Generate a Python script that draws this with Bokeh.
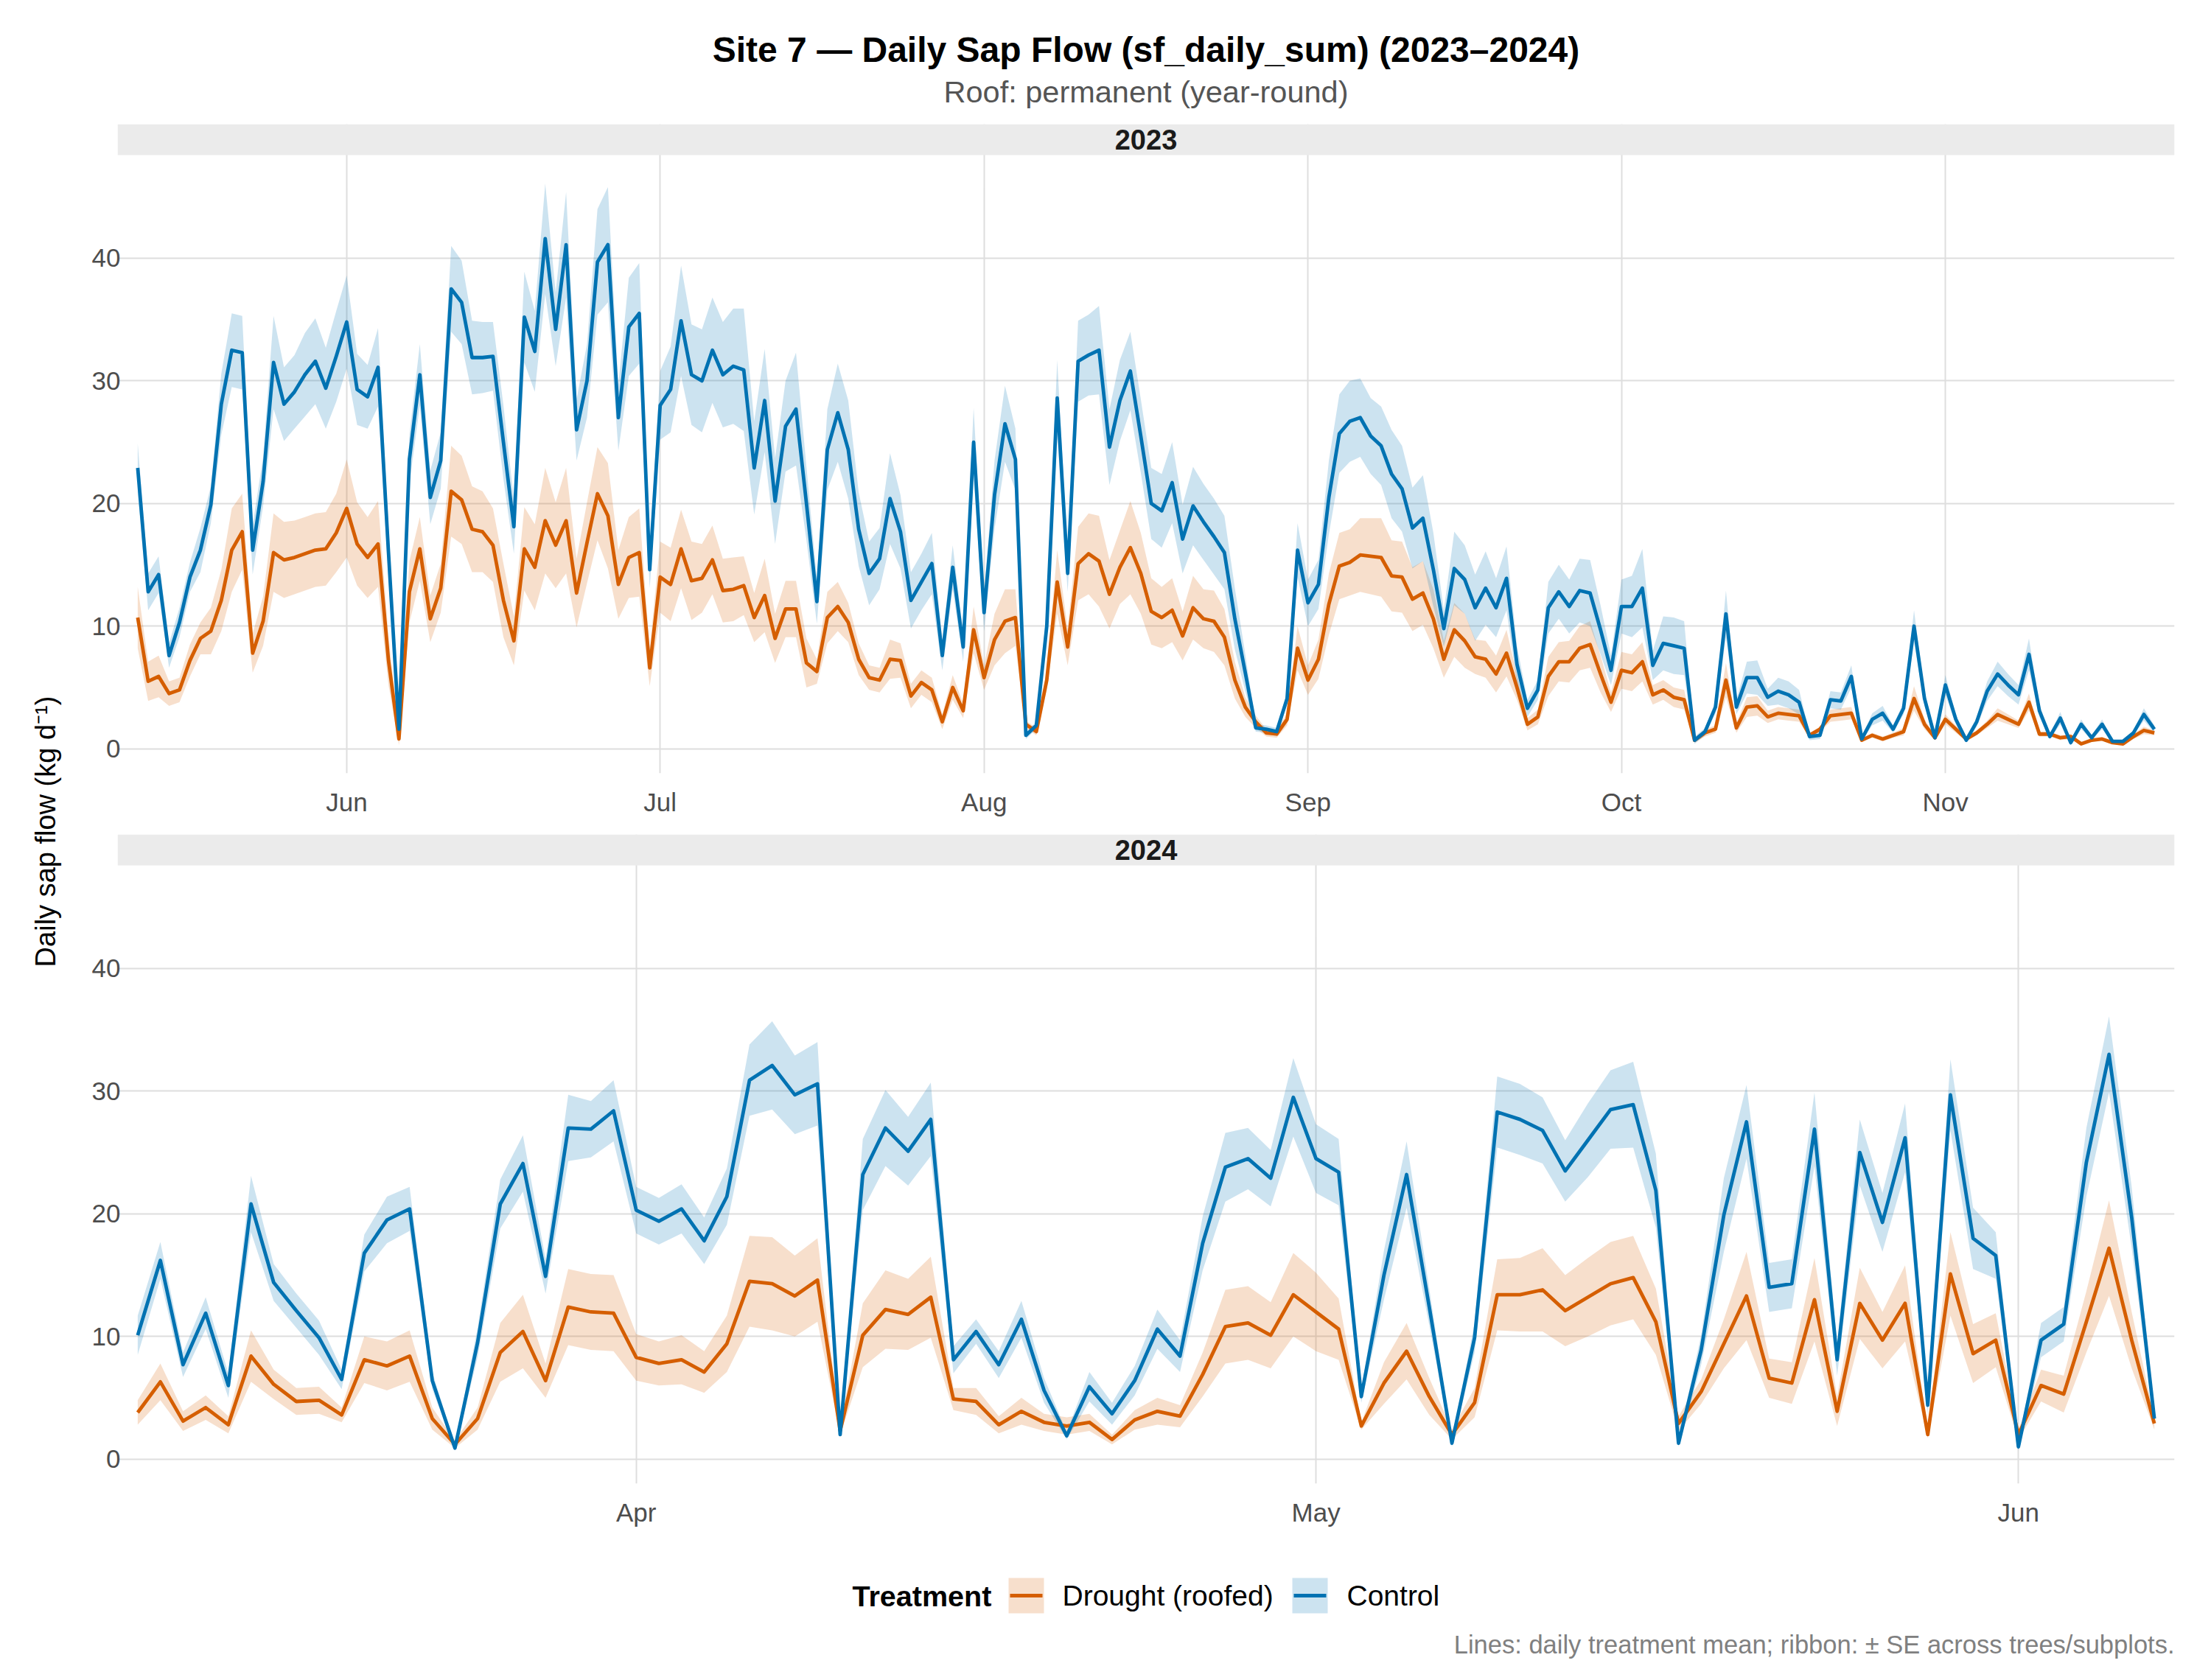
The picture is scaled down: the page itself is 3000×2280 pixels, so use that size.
import pandas as pd
from bokeh.plotting import figure
from bokeh.layouts import column, row
from bokeh.models import Range1d, FixedTicker, DatetimeTickFormatter, ColumnDataSource
from bokeh.core.properties import value
from bokeh.embed import file_html
from bokeh.resources import INLINE

# ---------------- data ----------------
start_2023 = "2023-05-12"
start_2024 = "2024-03-10"

ctl_2023 = [22.9, 12.8, 14.2, 7.6, 10.3, 14.0, 16.2, 19.9, 28.1, 32.5,
            32.3, 16.2, 21.8, 31.5, 28.1, 29.1, 30.5, 31.6, 29.4, 32.0,
            34.8, 29.3, 28.7, 31.1, 16.0, 1.6, 23.6, 30.5, 20.5, 23.5,
            37.5, 36.4, 31.9, 31.9, 32.0, 25.0, 18.1, 35.2, 32.4, 41.6,
            34.2, 41.1, 26.0, 30.0, 39.7, 41.1, 27.0, 34.4, 35.5, 14.6,
            28.0, 29.3, 34.9, 30.5, 30.0, 32.5, 30.5, 31.2, 30.9, 22.9,
            28.4, 20.2, 26.3, 27.7, 20.0, 12.0, 24.4, 27.4, 24.4, 17.9,
            14.3, 15.5, 20.4, 17.7, 12.1, 13.6, 15.1, 7.6, 14.8, 8.3,
            25.0, 11.1, 20.7, 26.5, 23.6, 1.1, 1.9, 10.0, 28.6, 14.3,
            31.6, 32.1, 32.5, 24.6, 28.4, 30.8, 25.5, 20.0, 19.4, 21.7,
            17.1, 19.8, 18.5, 17.3, 16.0, 10.6, 6.2, 1.7, 1.6, 1.4,
            4.1, 16.2, 11.9, 13.4, 20.5, 25.7, 26.7, 27.0, 25.5, 24.7,
            22.4, 21.2, 18.0, 18.8, 14.6, 9.8, 14.7, 13.8, 11.5, 13.1,
            11.5, 13.9, 6.9, 3.3, 4.8, 11.5, 12.8, 11.6, 12.9, 12.7,
            9.7, 6.4, 11.6, 11.6, 13.1, 6.8, 8.6, 8.4, 8.2, 0.7,
            1.4, 3.4, 11.0, 3.4, 5.8, 5.8, 4.2, 4.7, 4.4, 3.8,
            1.0, 1.1, 4.0, 3.9, 5.9, 0.8, 2.4, 2.9, 1.6, 3.3,
            10.0, 4.1, 0.9, 5.2, 2.4, 0.7, 2.2, 4.7, 6.1, 5.2,
            4.4, 7.7, 3.1, 1.0, 2.5, 0.5, 2.0, 0.9, 2.0, 0.6,
            0.6, 1.3, 2.8, 1.6]

dr_2023 = [10.7, 5.5, 5.9, 4.5, 4.8, 7.2, 9.0, 9.6, 12.1, 16.2,
           17.7, 7.8, 10.4, 16.0, 15.4, 15.6, 15.9, 16.2, 16.3, 17.6,
           19.6, 16.7, 15.6, 16.7, 7.2, 0.8, 12.8, 16.3, 10.6, 13.1,
           21.0, 20.3, 17.9, 17.7, 16.6, 12.1, 8.8, 16.3, 14.8, 18.6,
           16.6, 18.6, 12.7, 16.8, 20.8, 19.0, 13.4, 15.6, 16.0, 6.6,
           14.0, 13.4, 16.3, 13.7, 13.9, 15.4, 12.9, 13.0, 13.3, 10.7,
           12.5, 9.0, 11.4, 11.4, 7.0, 6.3, 10.7, 11.6, 10.3, 7.3,
           5.8, 5.6, 7.3, 7.2, 4.3, 5.4, 4.8, 2.2, 5.0, 3.1,
           9.7, 5.8, 8.9, 10.4, 10.7, 2.0, 1.4, 5.6, 13.6, 8.3,
           15.1, 15.9, 15.3, 12.6, 14.8, 16.4, 14.3, 11.2, 10.7, 11.3,
           9.2, 11.5, 10.6, 10.4, 9.1, 5.6, 3.4, 2.2, 1.3, 1.2,
           2.4, 8.2, 5.6, 7.3, 11.8, 14.9, 15.2, 15.8, 15.7, 15.6,
           14.1, 14.0, 12.2, 12.7, 10.6, 7.3, 9.7, 8.8, 7.5, 7.3,
           6.1, 7.8, 5.0, 2.0, 2.6, 5.9, 7.1, 7.1, 8.2, 8.5,
           6.1, 3.8, 6.4, 6.2, 7.1, 4.4, 4.8, 4.2, 4.0, 0.7,
           1.3, 1.6, 5.6, 1.7, 3.4, 3.5, 2.6, 2.9, 2.8, 2.7,
           1.1, 1.6, 2.7, 2.8, 2.9, 0.7, 1.1, 0.8, 1.1, 1.4,
           4.1, 2.0, 0.9, 2.4, 1.6, 0.8, 1.3, 2.0, 2.8, 2.4,
           2.0, 3.8, 1.2, 1.2, 0.9, 1.0, 0.4, 0.7, 0.8, 0.5,
           0.4, 1.0, 1.5, 1.3]

se_ctl_2023 = [2.0, 1.5, 1.5, 1.0, 1.2, 1.2, 1.8, 1.5, 2.5, 3.0,
               3.0, 2.0, 2.0, 3.8, 3.0, 3.0, 3.4, 3.5, 3.3, 3.7,
               3.8, 2.9, 2.6, 3.2, 2.0, 0.5, 2.0, 2.5, 2.2, 2.3,
               3.5, 3.4, 3.0, 2.9, 2.8, 3.0, 2.2, 3.7, 3.3, 4.5,
               3.0, 4.3, 2.5, 3.0, 4.3, 4.7, 2.7, 4.0, 4.1, 1.5,
               2.8, 3.5, 4.5, 4.1, 4.2, 4.3, 4.3, 4.7, 5.0, 3.8,
               4.2, 3.5, 3.7, 4.6, 3.0, 1.8, 3.3, 4.0, 4.0, 3.0,
               2.6, 2.5, 3.7, 3.0, 2.3, 2.3, 2.5, 1.2, 1.8, 1.2,
               2.8, 1.5, 2.8, 3.1, 2.5, 0.3, 0.3, 1.5, 3.1, 1.5,
               3.3, 3.3, 3.6, 3.1, 3.3, 3.2, 3.0, 2.9, 3.0, 3.3,
               2.8, 3.2, 3.1, 3.1, 3.0, 2.5, 1.5, 0.3, 0.3, 0.3,
               0.5, 2.2, 1.9, 2.0, 3.0, 3.2, 3.3, 3.2, 3.1, 3.2,
               3.6, 3.5, 3.3, 3.5, 3.0, 1.5, 3.0, 2.8, 2.7, 3.0,
               2.4, 2.6, 1.5, 0.7, 0.8, 2.1, 2.2, 2.2, 2.6, 2.7,
               2.0, 1.2, 2.2, 2.5, 3.2, 1.2, 2.2, 2.3, 2.2, 0.3,
               0.3, 0.5, 1.9, 0.6, 1.3, 1.4, 0.7, 1.1, 1.1, 1.0,
               0.3, 0.3, 0.7, 0.7, 0.9, 0.2, 0.5, 0.6, 0.3, 0.5,
               1.3, 0.6, 0.2, 0.8, 0.4, 0.2, 0.4, 0.8, 1.0, 0.9,
               0.8, 1.3, 0.5, 0.2, 0.5, 0.2, 0.4, 0.2, 0.4, 0.1,
               0.1, 0.2, 0.5, 0.3]

se_dr_2023 = [2.5, 1.6, 1.7, 1.0, 1.0, 1.3, 1.3, 1.9, 2.5, 3.4,
              3.1, 1.6, 2.0, 3.2, 3.1, 3.0, 3.0, 3.0, 3.0, 3.2,
              4.0, 3.4, 3.3, 3.5, 2.0, 0.5, 2.5, 2.6, 1.9, 2.0,
              3.7, 3.6, 3.5, 3.3, 3.0, 3.0, 2.0, 3.4, 3.5, 4.3,
              3.5, 4.3, 2.8, 3.3, 3.8, 4.3, 2.8, 3.3, 3.6, 1.5,
              2.9, 3.0, 3.2, 3.2, 2.8, 2.8, 2.6, 2.6, 2.4, 2.0,
              3.0, 2.0, 2.3, 2.3, 2.0, 1.0, 2.1, 2.0, 1.6, 1.3,
              1.0, 1.0, 1.6, 1.4, 1.0, 1.0, 1.0, 0.6, 1.0, 0.6,
              1.9, 1.0, 2.1, 2.6, 2.3, 0.3, 0.3, 0.8, 2.6, 1.5,
              3.0, 3.3, 3.7, 2.8, 3.0, 3.8, 3.3, 2.7, 2.5, 2.6,
              2.0, 2.6, 2.4, 2.5, 2.3, 1.5, 0.8, 0.5, 0.3, 0.3,
              0.5, 1.8, 1.2, 1.6, 2.5, 2.7, 2.7, 3.0, 3.1, 3.2,
              2.9, 2.9, 2.6, 2.6, 2.4, 1.5, 2.2, 2.2, 1.4, 1.5,
              1.5, 1.9, 1.0, 0.5, 0.6, 1.6, 1.6, 1.7, 1.8, 1.9,
              1.5, 0.8, 1.5, 1.5, 1.6, 0.8, 0.8, 0.8, 0.8, 0.2,
              0.3, 0.3, 1.4, 0.4, 0.8, 0.8, 0.5, 0.5, 0.5, 0.5,
              0.2, 0.2, 0.5, 0.5, 0.5, 0.1, 0.2, 0.2, 0.2, 0.3,
              1.0, 0.4, 0.2, 0.4, 0.3, 0.2, 0.2, 0.3, 0.5, 0.4,
              0.3, 0.7, 0.2, 0.2, 0.2, 0.2, 0.1, 0.1, 0.1, 0.1,
              0.1, 0.2, 0.3, 0.2]

ctl_2024 = [10.1, 16.2, 7.7, 11.9, 6.0, 20.8, 14.4, 12.1, 9.9, 6.5,
            16.8, 19.5, 20.4, 6.4, 0.9, 9.5, 20.8, 24.1, 14.9, 27.0,
            26.9, 28.4, 20.3, 19.4, 20.4, 17.8, 21.4, 30.9, 32.1, 29.7,
            30.6, 2.0, 23.2, 27.0, 25.1, 27.7, 8.1, 10.4, 7.7, 11.4,
            5.6, 1.9, 5.9, 3.7, 6.4, 10.6, 8.4, 17.6, 23.8, 24.5,
            22.9, 29.5, 24.5, 23.4, 5.1, 15.0, 23.2, 12.4, 1.3, 9.9,
            28.3, 27.7, 26.8, 23.5, 26.0, 28.5, 28.9, 21.9, 1.3, 8.9,
            19.9, 27.5, 14.0, 14.3, 26.9, 8.1, 25.0, 19.3, 26.2, 4.4,
            29.7, 18.0, 16.6, 1.0, 9.7, 11.0, 24.2, 33.0, 19.7, 3.3]

dr_2024 = [3.8, 6.3, 3.1, 4.2, 2.8, 8.4, 6.1, 4.7, 4.8, 3.6,
           8.1, 7.6, 8.4, 3.3, 1.2, 3.3, 8.7, 10.4, 6.4, 12.4,
           12.0, 11.9, 8.3, 7.8, 8.1, 7.1, 9.4, 14.5, 14.3, 13.3,
           14.6, 2.3, 10.1, 12.2, 11.8, 13.2, 4.9, 4.7, 2.8, 3.9,
           3.0, 2.7, 3.0, 1.6, 3.2, 3.9, 3.5, 6.9, 10.8, 11.1,
           10.1, 13.4, 12.0, 10.6, 2.7, 6.2, 8.8, 5.1, 2.0, 4.6,
           13.4, 13.4, 13.8, 12.1, 13.2, 14.3, 14.8, 11.2, 2.9, 5.5,
           9.4, 13.3, 6.6, 6.2, 13.0, 3.9, 12.7, 9.7, 12.7, 2.0,
           15.1, 8.6, 9.7, 2.0, 6.0, 5.3, 11.2, 17.2, 9.7, 2.9]

se_ctl_2024 = [1.6, 1.5, 1.0, 1.3, 1.0, 2.3, 1.5, 1.4, 1.4, 0.8,
               1.5, 1.9, 1.8, 0.7, 0.2, 1.2, 2.0, 2.3, 1.4, 2.7,
               2.3, 2.5, 1.9, 1.9, 2.0, 1.9, 2.3, 2.9, 3.6, 3.2,
               3.4, 0.3, 2.9, 3.1, 2.8, 3.0, 1.1, 1.0, 1.1, 1.5,
               1.0, 0.3, 1.2, 0.9, 1.2, 1.6, 1.3, 2.2, 2.8, 2.5,
               2.3, 3.2, 2.8, 2.7, 0.5, 2.0, 2.7, 1.5, 0.3, 1.2,
               2.9, 2.9, 2.7, 2.5, 3.0, 3.2, 3.5, 3.0, 0.3, 1.2,
               3.0, 3.0, 2.0, 2.0, 3.0, 1.3, 2.7, 2.4, 2.8, 0.7,
               2.9, 2.5, 1.9, 0.3, 1.4, 1.4, 2.8, 3.1, 2.5, 0.5]

se_dr_2024 = [1.0, 1.5, 0.8, 1.0, 0.7, 2.1, 1.2, 1.1, 1.1, 0.6,
              1.9, 2.0, 2.1, 0.9, 0.3, 0.9, 2.4, 3.0, 1.4, 3.1,
              3.1, 3.1, 1.9, 1.8, 2.0, 1.7, 2.3, 3.7, 3.8, 3.3,
              3.4, 0.3, 2.6, 3.2, 2.9, 3.3, 0.9, 1.1, 0.7, 1.1,
              0.7, 0.7, 0.7, 0.4, 0.8, 1.1, 0.9, 1.8, 3.0, 3.0,
              2.7, 3.4, 3.2, 2.5, 0.3, 1.7, 2.3, 1.5, 0.4, 1.2,
              2.9, 3.0, 3.4, 2.9, 3.2, 3.4, 3.4, 2.7, 0.6, 1.0,
              2.0, 3.6, 1.6, 1.7, 3.4, 1.2, 2.9, 2.3, 3.1, 0.3,
              3.4, 2.4, 2.2, 0.4, 1.3, 1.5, 2.5, 3.9, 2.3, 0.5]

month_ticks_2023 = ["2023-06-01", "2023-07-01", "2023-08-01", "2023-09-01", "2023-10-01", "2023-11-01"]
month_ticks_2024 = ["2024-04-01", "2024-05-01", "2024-06-01"]
y_ticks = [0, 10, 20, 30, 40]

treatments = ["Drought (roofed)", "Control"]
colors = ["#D55E00", "#0072B2"]

title = "Site 7 \u2014 Daily Sap Flow (sf_daily_sum) (2023\u20132024)"
subtitle = "Roof: permanent (year-round)"
ylabel = "Daily sap flow (kg d\u207b\u00b9)"
caption = "Lines: daily treatment mean; ribbon: \u00b1 SE across trees/subplots."

# ---------------- layout constants ----------------
FONT = "Liberation Sans"
LEFT_W = 100
MAIN_W = 3000 - LEFT_W
BORDER_L = 59
BORDER_R = 50
HDR_H = 168
PANEL_H = 964
PANEL_BB = 83
FTR_H = 2280 - HDR_H - 2 * PANEL_H
Y_LO, Y_HI, Y_TOP = -2.0, 48.4, 50.93
GRID = "#DEDEDE"
TICK_COL = "#4D4D4D"


def blank(width, height, bl=0, br=0):
    # x data coordinates equal pixel columns of the (column-aligned) figure
    f = figure(width=width, height=height, x_range=Range1d(bl, width - br), y_range=Range1d(0, height),
               output_backend="svg", toolbar_location=None, min_border=0,
               min_border_left=bl, min_border_right=br,
               x_axis_location=None, y_axis_location=None)
    f.grid.visible = False
    f.outline_line_color = None
    f.background_fill_color = "white"
    f.border_fill_color = "white"
    return f


def panel(start, ctl, dr, se_ctl, se_dr, ticks, label):
    dates = pd.date_range(start, periods=len(ctl), freq="D")
    span = dates[-1] - dates[0]
    x0 = (dates[0] - span * 0.01).to_pydatetime()
    x1 = (dates[-1] + span * 0.01).to_pydatetime()
    p = figure(width=MAIN_W, height=PANEL_H, x_axis_type="datetime",
               x_range=Range1d(x0, x1), y_range=Range1d(Y_LO, Y_TOP),
               output_backend="svg", toolbar_location=None,
               min_border_left=BORDER_L, min_border_right=BORDER_R,
               min_border_top=0, min_border_bottom=PANEL_BB)
    p.outline_line_color = None
    p.background_fill_color = "white"
    p.border_fill_color = "white"

    src = ColumnDataSource(dict(
        x=dates,
        dr=dr, dr_lo=[m - s for m, s in zip(dr, se_dr)], dr_hi=[m + s for m, s in zip(dr, se_dr)],
        ctl=ctl, ctl_lo=[m - s for m, s in zip(ctl, se_ctl)], ctl_hi=[m + s for m, s in zip(ctl, se_ctl)],
    ))
    p.varea(x="x", y1="dr_lo", y2="dr_hi", source=src, fill_color=colors[0], fill_alpha=0.2)
    p.varea(x="x", y1="ctl_lo", y2="ctl_hi", source=src, fill_color=colors[1], fill_alpha=0.2)
    p.line(x="x", y="dr", source=src, line_color=colors[0], line_width=4.8, line_join="round")
    p.line(x="x", y="ctl", source=src, line_color=colors[1], line_width=4.8, line_join="round")

    # facet strip
    p.quad(left=[x0], right=[x1], bottom=[Y_HI], top=[Y_TOP], fill_color="#EBEBEB", line_color=None)
    p.text(x=[x0 + (x1 - x0) / 2], y=[(Y_HI + Y_TOP) / 2], text=[label],
           text_font=value(FONT), text_font_size=value("38px"), text_font_style="bold",
           text_align="center", text_baseline="middle", text_color="#1A1A1A")

    tick_ms = [pd.Timestamp(t).value // 10**6 for t in ticks]
    p.xaxis.ticker = FixedTicker(ticks=tick_ms)
    p.xaxis.formatter = DatetimeTickFormatter(
        microseconds="%b", milliseconds="%b", seconds="%b", minsec="%b", minutes="%b",
        hourmin="%b", hours="%b", days="%b", months="%b", years="%b")
    p.yaxis.ticker = FixedTicker(ticks=y_ticks)
    for ax in (p.xaxis, p.yaxis):
        ax.axis_line_color = None
        ax.major_tick_line_color = None
        ax.minor_tick_line_color = None
        ax.major_tick_out = 0
        ax.major_tick_in = 0
        ax.minor_tick_out = 0
        ax.minor_tick_in = 0
        ax.major_label_text_font = FONT
        ax.major_label_text_font_size = "35px"
        ax.major_label_text_color = TICK_COL
    p.xaxis.major_label_standoff = 19
    p.yaxis.major_label_standoff = -4
    p.xgrid.grid_line_color = GRID
    p.ygrid.grid_line_color = GRID
    p.xgrid.grid_line_width = 2
    p.ygrid.grid_line_width = 2
    return p


p1 = panel(start_2023, ctl_2023, dr_2023, se_ctl_2023, se_dr_2023, month_ticks_2023, "2023")
p2 = panel(start_2024, ctl_2024, dr_2024, se_ctl_2024, se_dr_2024, month_ticks_2024, "2024")

# header (x in main-column pixel columns)
cx = BORDER_L + (MAIN_W - BORDER_L - BORDER_R) / 2
hdr = blank(MAIN_W, HDR_H, BORDER_L, BORDER_R)
hdr.text(x=[cx], y=[HDR_H - 67], text=[title], text_font=value(FONT), text_font_size=value("48px"),
         text_font_style="bold", text_align="center", text_baseline="middle", text_color="black")
hdr.text(x=[cx], y=[HDR_H - 124], text=[subtitle], text_font=value(FONT), text_font_size=value("41.5px"),
         text_align="center", text_baseline="middle", text_color="#555555")

# left: y-axis title
left = blank(LEFT_W, 2280)
left.text(x=[61], y=[2280 - 1128], text=[ylabel], angle=1.5707963, text_font=value(FONT),
          text_font_size=value("38px"), text_align="center", text_baseline="middle", text_color="black")

# footer: legend + caption (x in main-column pixel columns)
ftr = blank(MAIN_W, FTR_H, BORDER_L, BORDER_R)
ly = FTR_H - 69
ftr.text(x=[1056], y=[ly], text=["Treatment"], text_font=value(FONT), text_font_size=value("39.5px"),
         text_font_style="bold", text_align="left", text_baseline="middle", text_color="black")
key_left = [1268, 1653]
label_left = [1341, 1727]
for kl, ll, name, col in zip(key_left, label_left, treatments, colors):
    ftr.quad(left=[kl], right=[kl + 48], bottom=[ly - 24], top=[ly + 24], fill_color=col, fill_alpha=0.2,
             line_color=None)
    ftr.segment(x0=[kl + 2], x1=[kl + 46], y0=[ly], y1=[ly], line_color=col, line_width=4.8)
    ftr.text(x=[ll], y=[ly], text=[name], text_font=value(FONT), text_font_size=value("39px"),
             text_align="left", text_baseline="middle", text_color="black")
ftr.text(x=[MAIN_W - BORDER_R], y=[FTR_H - 135], text=[caption], text_font=value(FONT),
         text_font_size=value("34.5px"), text_align="right", text_baseline="middle", text_color="#808080")

layout = row(left, column(hdr, p1, p2, ftr, spacing=0), spacing=0)
open("out.html", "w").write(file_html(layout, INLINE))
